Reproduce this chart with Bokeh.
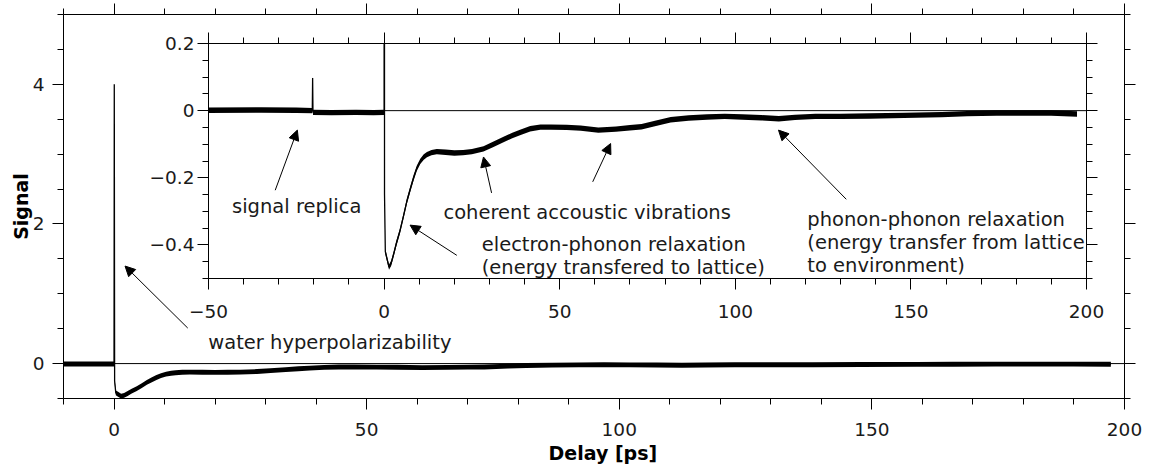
from bokeh.plotting import figure
from bokeh.models import (ColumnDataSource, LinearAxis, FixedTicker, Span, Label, Title,
                          Arrow, NormalHead, GridBox, CustomJSTickFormatter, Range1d)
from bokeh.embed import file_html
from bokeh.resources import INLINE

# Pump-probe transient: delay in ps, mean signal level (a.u.)
delay = [-50, -35, -25, -20.45, -20.35, -20.25, -15, -8, -3, -0.05, 0.0, 0.05,
         0.12, 0.35, 0.8, 1.4, 2.0, 2.7, 3.5, 4.5, 5.5, 6.5, 7.5, 8.4, 9.3, 10.3,
         11.3, 12.2, 13.5, 15, 17.5, 20, 22.5, 25, 28.3, 31, 34, 36.5, 38.7,
         41.6, 44.5, 47.5, 52, 56, 61, 66, 70, 73.3, 78, 81.6, 86.7, 92, 97,
         102, 107.4, 112.4, 117, 122.8, 130, 138.3, 148, 158.8, 166, 174.4,
         182, 189.9, 197.3]
signal = [0.001, 0.002, 0.001, 0.0, 0.097, -0.005, -0.006, -0.005, -0.006, -0.005,
          -0.005, 4.0, -0.25, -0.42, -0.44, -0.466, -0.455, -0.428, -0.395,
          -0.359, -0.315, -0.269, -0.232, -0.200, -0.172, -0.151, -0.138, -0.131,
          -0.125, -0.122, -0.124, -0.126, -0.125, -0.122, -0.114, -0.101, -0.086,
          -0.074, -0.065, -0.054, -0.049, -0.049, -0.050, -0.052, -0.058, -0.055,
          -0.051, -0.048, -0.036, -0.027, -0.022, -0.019, -0.017, -0.019, -0.021,
          -0.024, -0.020, -0.017, -0.017, -0.016, -0.014, -0.012, -0.009, -0.007,
          -0.007, -0.007, -0.010]

# half width of the shot noise riding on the trace
noise_main = 0.035
noise_inset = 0.008

main_x_ticks = [0, 50, 100, 150, 200]
main_x_labels = ["0", "50", "100", "150", "200"]
main_y_ticks = [0, 2, 4]
main_y_labels = ["0", "2", "4"]
inset_x_ticks = [-50, 0, 50, 100, 150, 200]
inset_x_labels = ["\u221250", "0", "50", "100", "150", "200"]
inset_y_ticks = [-0.4, -0.2, 0, 0.2]
inset_y_labels = ["\u22120.4", "\u22120.2", "0", "0.2"]

main_x_minor = [-10 + 10 * i for i in range(22)]
main_y_minor = [-0.5 + 0.5 * i for i in range(12)]
inset_x_minor = [-50 + 10 * i for i in range(26)]
inset_y_minor = [round(-0.5 + 0.05 * i, 2) for i in range(15)]

FONT = "DejaVu Sans"
TICK_SIZE = "18.5px"
NOTE_SIZE = "19.5px"
TITLE_SIZE = "19px"
INK = "#1a1a1a"


def style_axis(ax, ticks, minor, labels=None, standoff=8):
    ax.ticker = FixedTicker(ticks=ticks, minor_ticks=minor)
    ax.axis_line_color = "black"
    ax.axis_line_width = 1
    ax.major_tick_line_color = "black"
    ax.minor_tick_line_color = "black"
    ax.major_tick_in = 0
    ax.major_tick_out = 11
    ax.minor_tick_in = 0
    ax.minor_tick_out = 6
    ax.major_label_text_font = FONT
    ax.major_label_text_color = INK
    if labels is not None:
        ax.major_label_overrides = dict(zip(ticks, labels))
        ax.major_label_text_font_size = TICK_SIZE
        ax.major_label_standoff = standoff
    else:
        # mirrored axis: ticks only
        ax.formatter = CustomJSTickFormatter(code="return ''")
        ax.major_label_text_font_size = "1px"
        ax.major_label_standoff = 0


def make_source(noise):
    return ColumnDataSource(dict(
        x=delay, y=signal,
        lo=[s - noise for s in signal],
        hi=[s + noise for s in signal],
    ))


# ---------------- main panel ----------------
p = figure(frame_width=1061, frame_height=384, title=None,
           x_range=Range1d(-10, 200), y_range=Range1d(-0.5, 5),
           output_backend="svg", toolbar_location=None,
           min_border_left=63, min_border_right=25,
           min_border_top=14, min_border_bottom=60)
p.xgrid.visible = False
p.ygrid.visible = False
p.outline_line_color = None
p.background_fill_color = "white"
p.border_fill_color = "white"

style_axis(p.xaxis[0], main_x_ticks, main_x_minor, main_x_labels, standoff=13)
style_axis(p.yaxis[0], main_y_ticks, main_y_minor, main_y_labels, standoff=8)
p.yaxis.axis_label = "Signal"
p.yaxis.axis_label_text_font = FONT
p.yaxis.axis_label_text_font_style = "bold"
p.yaxis.axis_label_text_font_size = TITLE_SIZE
p.yaxis.axis_label_text_color = "black"
p.yaxis.axis_label_standoff = -2

# x title sits slightly right of the frame centre
p.add_layout(Title(text="Delay [ps]", align="left", offset=485, standoff=3,
                   text_font=FONT, text_font_style="bold",
                   text_font_size=TITLE_SIZE, text_color="black"), "below")

top = LinearAxis()
style_axis(top, main_x_ticks, main_x_minor)
p.add_layout(top, "above")
right = LinearAxis()
style_axis(right, main_y_ticks, main_y_minor)
p.add_layout(right, "right")

p.add_layout(Span(location=0, dimension="width", line_color="black", line_width=1))
src_main = make_source(noise_main)
p.varea(x="x", y1="lo", y2="hi", source=src_main, fill_color="black")
p.line("x", "y", source=src_main, line_color="black", line_width=1.3)

p.add_layout(Label(x=18.66, y=0.305, text="water hyperpolarizability",
                   text_font=FONT, text_font_size=NOTE_SIZE, text_color=INK,
                   text_baseline="alphabetic"))
p.add_layout(Arrow(end=NormalHead(size=10, fill_color="black", line_color="black"),
                   x_start=14.59, y_start=0.509, x_end=2.18, y_end=1.397,
                   line_color="black", line_width=1))

# ---------------- inset: zoom on the transient ----------------
# borders no larger than the main panel's, so the shared grid cell keeps
# the main frame where it is
q = figure(frame_width=878, frame_height=235, title=None,
           x_range=Range1d(-50, 200), y_range=Range1d(-0.5, 0.2),
           output_backend="svg", toolbar_location=None,
           min_border_left=63, min_border_right=25,
           min_border_top=14, min_border_bottom=50)
q.xgrid.visible = False
q.ygrid.visible = False
q.outline_line_color = None
q.background_fill_color = None
q.border_fill_color = None
q.margin = (29, 0, 0, 145)

style_axis(q.xaxis[0], inset_x_ticks, inset_x_minor, inset_x_labels, standoff=15)
style_axis(q.yaxis[0], inset_y_ticks, inset_y_minor, inset_y_labels, standoff=3)
qtop = LinearAxis()
style_axis(qtop, inset_x_ticks, inset_x_minor)
q.add_layout(qtop, "above")
qright = LinearAxis()
style_axis(qright, inset_y_ticks, inset_y_minor)
q.add_layout(qright, "right")

q.add_layout(Span(location=0, dimension="width", line_color="black", line_width=1))
src_inset = make_source(noise_inset)
q.varea(x="x", y1="lo", y2="hi", source=src_inset, fill_color="black")
q.line("x", "y", source=src_inset, line_color="black", line_width=1.3)


def note(fig, x, y, text):
    fig.add_layout(Label(x=x, y=y, text=text, text_font=FONT,
                         text_font_size=NOTE_SIZE, text_color=INK,
                         text_baseline="alphabetic"))


def pointer(fig, x0, y0, x1, y1):
    fig.add_layout(Arrow(end=NormalHead(size=10, fill_color="black", line_color="black"),
                         x_start=x0, y_start=y0, x_end=x1, y_end=y1,
                         line_color="black", line_width=1))


note(q, -43.3, -0.285, "signal replica")
pointer(q, -31.0, -0.237, -24.7, -0.058)

note(q, 16.9, -0.303, "coherent accoustic vibrations")
pointer(q, 30.6, -0.245, 28.3, -0.138)
pointer(q, 59.4, -0.212, 64.5, -0.098)

note(q, 27.8, -0.398, "electron-phonon relaxation")
note(q, 27.8, -0.466, "(energy transfered to lattice)")
pointer(q, 20.7, -0.431, 7.4, -0.341)

note(q, 120.5, -0.323, "phonon-phonon relaxation")
note(q, 120.5, -0.392, "(energy transfer from lattice")
note(q, 120.5, -0.460, "to environment)")
pointer(q, 131.6, -0.264, 112.3, -0.058)

layout = GridBox(children=[(p, 0, 0), (q, 0, 0)])

open("out.html", "w").write(file_html(layout, INLINE))
